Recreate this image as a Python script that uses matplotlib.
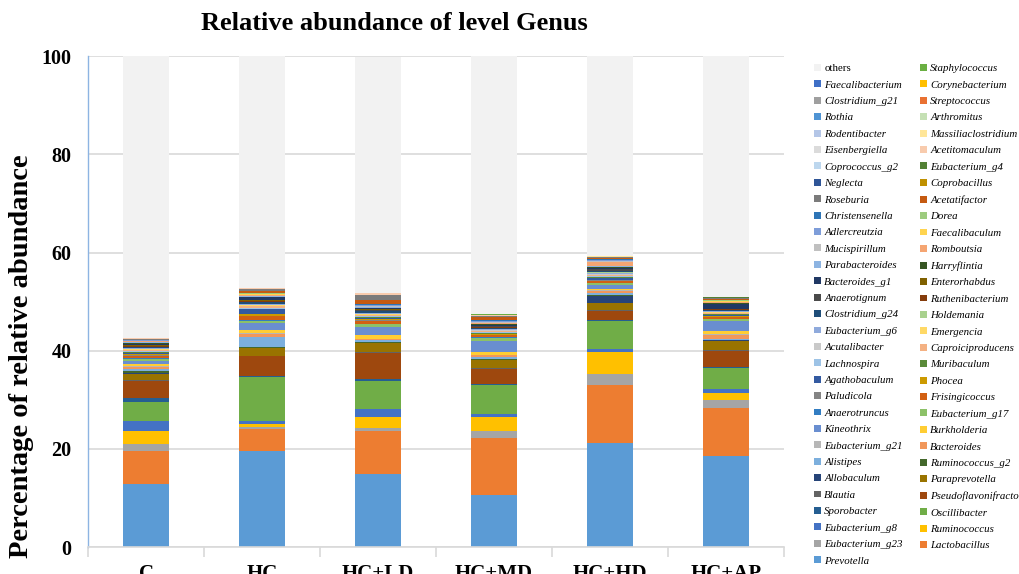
import numpy as np
import matplotlib.pyplot as plt
from matplotlib.patches import Patch

plt.rcParams['font.family'] = ['Liberation Serif', 'DejaVu Serif']

groups = ["C", "HC", "HC+LD", "HC+MD", "HC+HD", "HC+AP"]

# genera listed from the bottom of each stack to the top
genera = [
    "Prevotella", "Lactobacillus", "Eubacterium_g23", "Ruminococcus", "Eubacterium_g8",
    "Oscillibacter", "Sporobacter", "Pseudoflavonifractor", "Blautia", "Paraprevotella",
    "Allobaculum", "Ruminococcus_g2", "Alistipes", "Bacteroides", "Eubacterium_g21",
    "Burkholderia", "Kineothrix", "Eubacterium_g17", "Anaerotruncus", "Frisingicoccus",
    "Paludicola", "Phocea", "Agathobaculum", "Muribaculum", "Lachnospira",
    "Caproiciproducens", "Acutalibacter", "Emergencia", "Eubacterium_g6", "Holdemania",
    "Clostridium_g24", "Ruthenibacterium", "Anaerotignum", "Enterorhabdus", "Bacteroides_g1",
    "Harryflintia", "Parabacteroides", "Romboutsia", "Mucispirillum", "Faecalibaculum",
    "Adlercreutzia", "Dorea", "Christensenella", "Acetatifactor", "Roseburia",
    "Coprobacillus", "Neglecta", "Eubacterium_g4", "Coprococcus_g2", "Acetitomaculum",
    "Eisenbergiella", "Massiliaclostridium", "Rodentibacter", "Arthromitus", "Rothia",
    "Streptococcus", "Clostridium_g21", "Corynebacterium", "Faecalibacterium", "Staphylococcus",
    "others",
]

abund_c = [
    12.9, 6.6, 1.4, 2.7, 2.0, 3.9, 0.9, 3.4, 0.3, 1.2,
    0.2, 0.4, 0.3, 0.5, 0.2, 0.3, 0.7, 0.5, 0.2, 0.4,
    0.1, 0.2, 0.3, 0.1, 0.2, 0.2, 0.1, 0.1, 0.2, 0.1,
    0.2, 0.1, 0.1, 0.1, 0.3, 0.2, 0.1, 0.2, 0.1, 0.05,
    0.05, 0.03, 0.05, 0.1, 0.1, 0.02, 0.02, 0.02, 0.02, 0.04,
    0.01, 0.01, 0.01, 0.01, 0.01, 0.02, 0.01, 0.01, 0.01, 0.01,
    57.4,
]
abund_hc = [
    19.6, 4.4, 0.4, 0.6, 0.6, 9.0, 0.2, 4.1, 0.1, 1.5,
    0.1, 0.1, 2.0, 0.8, 0.1, 0.7, 1.3, 0.5, 0.1, 0.8,
    0.1, 0.4, 0.9, 0.1, 0.3, 0.3, 0.1, 0.1, 0.2, 0.1,
    0.4, 0.1, 0.1, 0.1, 0.6, 0.1, 0.2, 0.1, 0.1, 0.1,
    0.1, 0.1, 0.1, 0.4, 0.3, 0.02, 0.02, 0.02, 0.02, 0.15,
    0.01, 0.01, 0.01, 0.01, 0.01, 0.01, 0.01, 0.01, 0.01, 0.01,
    47.4,
]
abund_ld = [
    14.8, 8.8, 0.7, 2.2, 1.7, 5.7, 0.3, 5.4, 0.1, 1.8,
    0.1, 0.2, 0.3, 0.2, 0.1, 0.8, 1.6, 0.6, 0.1, 0.6,
    0.1, 0.2, 0.3, 0.1, 0.2, 0.2, 0.1, 0.1, 0.2, 0.1,
    0.3, 0.1, 0.2, 0.2, 0.2, 0.1, 0.1, 0.1, 0.1, 0.1,
    0.1, 0.1, 0.1, 0.8, 1.0, 0.02, 0.02, 0.02, 0.02, 0.3,
    0.01, 0.01, 0.01, 0.01, 0.01, 0.01, 0.01, 0.01, 0.01, 0.01,
    48.1,
]
abund_md = [
    10.6, 11.6, 1.5, 2.8, 0.6, 6.0, 0.2, 3.0, 0.1, 1.7,
    0.1, 0.2, 0.3, 0.4, 0.1, 0.5, 2.2, 0.7, 0.1, 0.5,
    0.1, 0.1, 0.1, 0.2, 0.2, 0.2, 0.1, 0.1, 0.1, 0.1,
    0.2, 0.1, 0.2, 0.1, 0.2, 0.1, 0.1, 0.2, 0.1, 0.1,
    0.1, 0.1, 0.1, 0.6, 0.2, 0.02, 0.02, 0.02, 0.02, 0.2,
    0.01, 0.01, 0.01, 0.01, 0.01, 0.01, 0.01, 0.01, 0.01, 0.01,
    52.7,
]
abund_hd = [
    21.1, 12.0, 2.2, 4.5, 0.5, 5.8, 0.2, 1.8, 0.2, 1.5,
    1.4, 0.2, 0.3, 0.5, 0.1, 0.3, 0.8, 0.3, 0.1, 0.5,
    0.1, 0.1, 0.4, 0.1, 0.3, 0.2, 0.1, 0.1, 0.2, 0.1,
    0.2, 0.1, 0.3, 0.1, 0.2, 0.2, 0.2, 0.8, 0.1, 0.1,
    0.1, 0.1, 0.1, 0.3, 0.1, 0.02, 0.02, 0.02, 0.02, 0.1,
    0.01, 0.01, 0.01, 0.01, 0.01, 0.01, 0.01, 0.01, 0.01, 0.01,
    40.9,
]
abund_ap = [
    18.5, 9.9, 1.5, 1.5, 0.7, 4.4, 0.2, 3.3, 0.2, 1.8,
    0.1, 0.1, 0.2, 0.9, 0.1, 0.6, 2.0, 0.4, 0.1, 0.3,
    0.1, 0.1, 0.2, 0.2, 0.1, 0.1, 0.1, 0.1, 0.2, 0.1,
    0.2, 0.1, 0.1, 0.1, 1.0, 0.1, 0.1, 0.1, 0.1, 0.1,
    0.1, 0.1, 0.1, 0.2, 0.2, 0.02, 0.02, 0.02, 0.02, 0.05,
    0.01, 0.01, 0.01, 0.01, 0.01, 0.01, 0.01, 0.01, 0.01, 0.01,
    49.1,
]

# Office-style palette, one colour per genus in stacking order
palette = [
    "#5B9BD5", "#ED7D31", "#A5A5A5", "#FFC000", "#4472C4", "#70AD47",
    "#255E91", "#9E480E", "#636363", "#997300", "#264478", "#43682B",
    "#7CAFDD", "#F1975A", "#B7B7B7", "#FFCD33", "#698ED0", "#8CC168",
    "#327DC2", "#D26012", "#848484", "#CC9A00", "#335AA1", "#5A8A39",
    "#9DC3E6", "#F4B183", "#C9C9C9", "#FFD966", "#8FAADC", "#A9D18E",
    "#1F4E79", "#843C0C", "#4A4A4A", "#7F6000", "#203864", "#375623",
    "#8DB4E2", "#F5A572", "#C0C0C0", "#FFD44F", "#7E9DD9", "#9DCB7E",
    "#2E75B6", "#C55A11", "#7B7B7B", "#BF9000", "#2F5597", "#538135",
    "#BDD7EE", "#F8CBAD", "#DBDBDB", "#FFE699", "#B4C6E7", "#C5E0B4",
    "#4F94D4", "#E97132", "#9F9F9F", "#FFBF00", "#3F6FC6", "#6AAF42",
    "#F2F2F2",
]

table = np.array([abund_c, abund_hc, abund_ld, abund_md, abund_hd, abund_ap]).T
x = np.arange(len(groups))

fig = plt.figure(figsize=(10.19, 5.74), dpi=100)
ax = fig.add_axes([0.0864, 0.047, 0.683, 0.855])

bottom = np.zeros(len(groups))
handles = []
for name, vals, col in zip(genera, table, palette):
    ax.bar(x, vals, 0.4, bottom=bottom, color=col, linewidth=0, zorder=2)
    bottom += vals
    handles.append(Patch(facecolor=col, label=name))

ax.set_xlim(-0.5, len(groups) - 0.5)
ax.set_ylim(0, 100)
ax.set_yticks(np.arange(0, 101, 20))
ax.set_yticklabels([str(v) for v in range(0, 101, 20)], fontsize=14.5, fontweight='bold')
ax.yaxis.grid(True, color='#D9D9D9', linewidth=1.2, zorder=0)
ax.set_axisbelow(True)
ax.tick_params(axis='y', length=0, pad=12)

ax.set_xticks(x)
ax.set_xticklabels(groups, fontsize=15, fontweight='bold')
ax.tick_params(axis='x', length=0, pad=12)
# category separator ticks along the baseline
ax.set_xticks(np.arange(-0.5, len(groups), 1.0), minor=True)
ax.tick_params(axis='x', which='minor', length=7, color='#D9D9D9', width=1.2)

for s in ['top', 'right']:
    ax.spines[s].set_visible(False)
ax.spines['left'].set_color('#8DB4E2')
ax.spines['left'].set_linewidth(1.0)
ax.spines['bottom'].set_color('#D9D9D9')
ax.spines['bottom'].set_linewidth(1.2)

fig.text(394 / 1019, 1 - 24 / 574, "Relative abundance of level Genus",
         ha='center', va='center', fontsize=19, fontweight='bold')
fig.text(22 / 1019, 1 - 356 / 574, "Percentage of relative abundance",
         ha='center', va='center', rotation=90, fontsize=20.5, fontweight='bold')

# legend: reversed series order, laid out row by row over two columns
rev = handles[::-1]
col_left = rev[0::2]
col_right = rev[1::2]
leg_kw = dict(loc='upper left', frameon=False, fontsize=7.8, handlelength=0.6,
              handleheight=0.6, handletextpad=0.35, labelspacing=0.66,
              borderpad=0, borderaxespad=0)
leg1 = fig.legend(handles=col_left, bbox_to_anchor=(814 / 1019, 1 - 64 / 574), **leg_kw)
leg2 = fig.legend(handles=col_right, bbox_to_anchor=(920 / 1019, 1 - 64 / 574), **leg_kw)
for leg in (leg1, leg2):
    for t in leg.get_texts():
        if t.get_text() != "others":
            t.set_fontstyle('italic')

fig.savefig("out.png", dpi=100)
